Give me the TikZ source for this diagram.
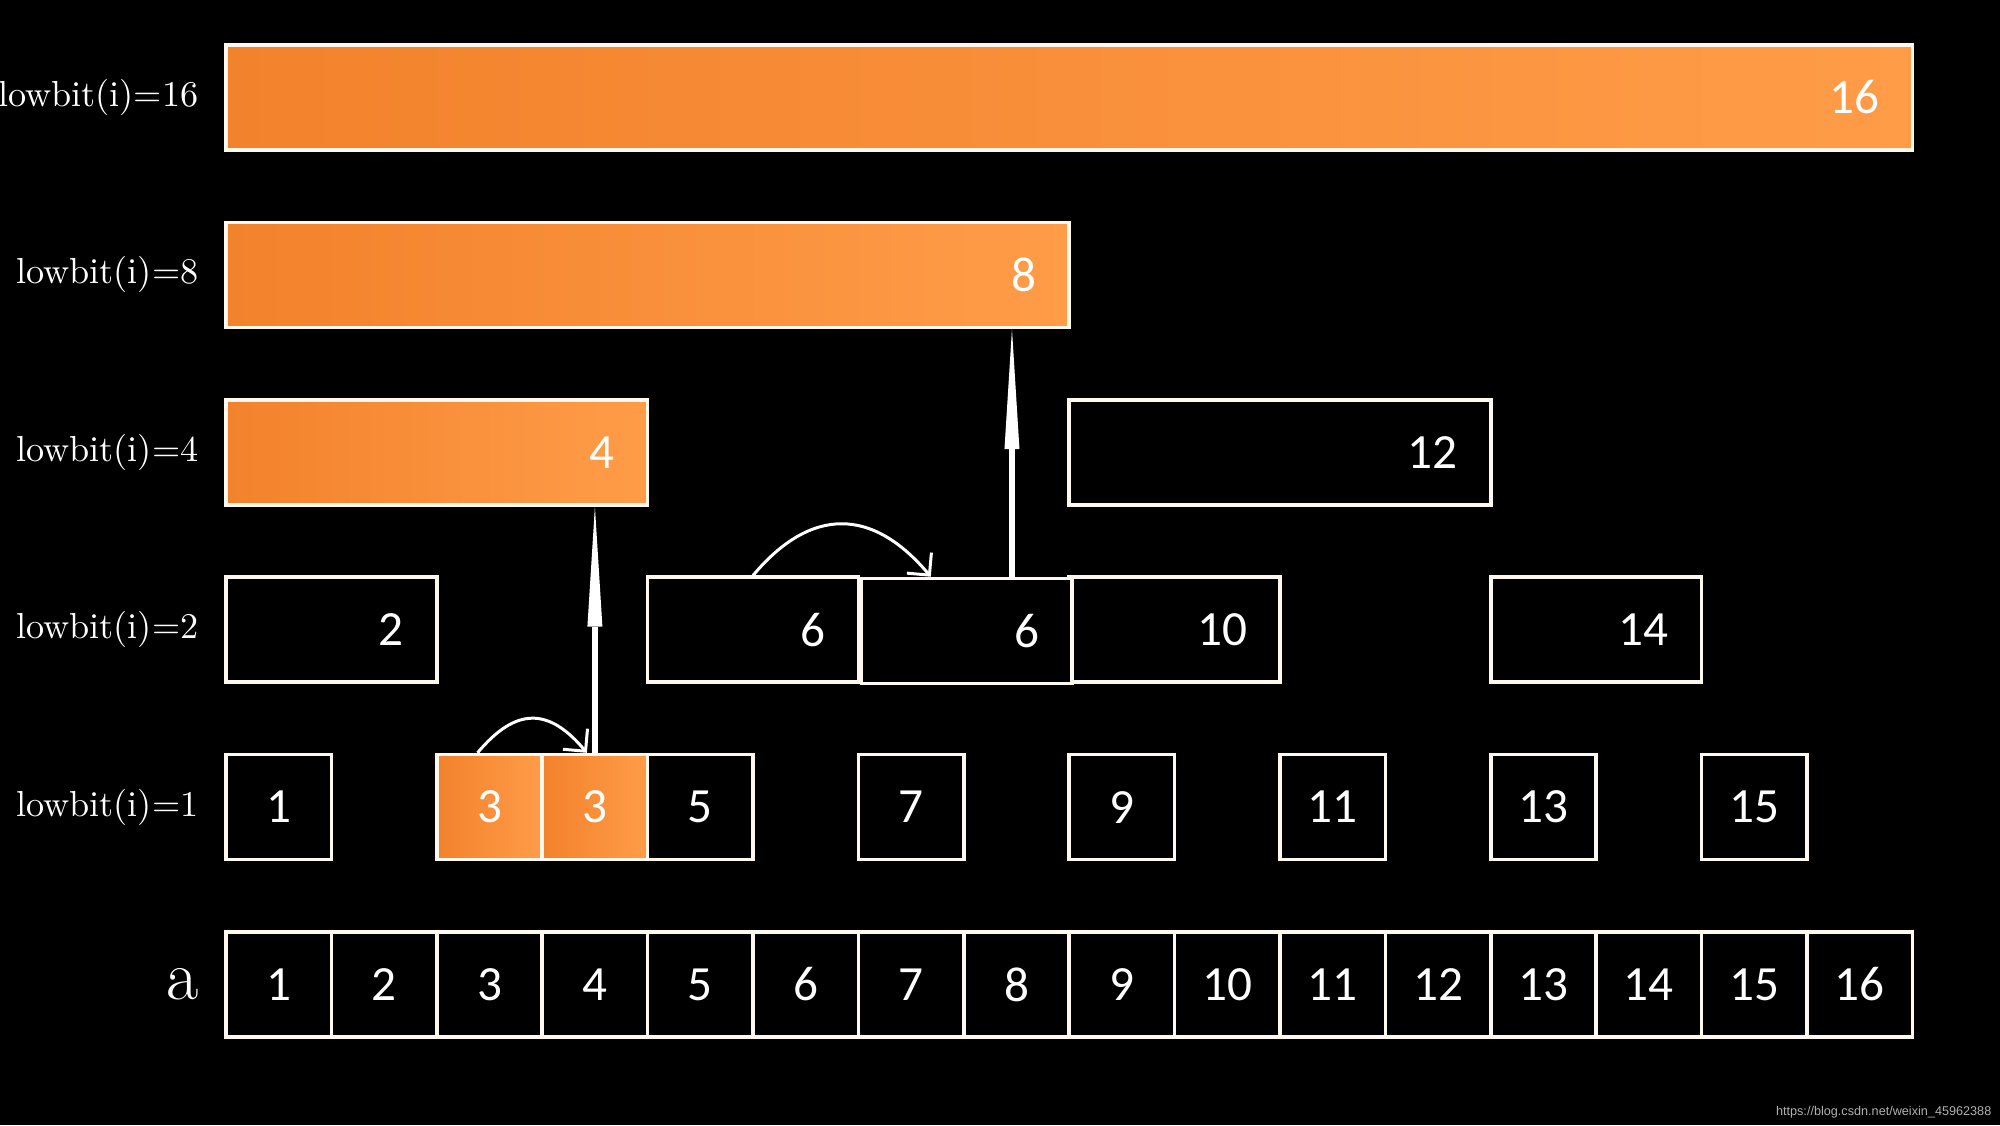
\documentclass[tikz,border=0pt]{standalone}
\usepackage{fontspec}
\newfontfamily\numfont{Carlito}
\newfontfamily\urlfont{Liberation Sans}
\usepackage{tikz}
\usetikzlibrary{arrows.meta,positioning,calc}
\usepackage{xcolor}
\definecolor{hotleft}{HTML}{F3822C}
\definecolor{hotright}{HTML}{FF9C48}
\definecolor{edge}{HTML}{FFF8EE}
\definecolor{wmark}{HTML}{B0B0B0}

\begin{document}
\begin{tikzpicture}[
  every node/.style={text=white},
  cellbox/.style={draw=edge, line width=1pt, fill=black, inner sep=0pt,
                  minimum width=#1*10.54mm, minimum height=10.5mm},
  cellbox/.default=1,
  hot/.style={left color=hotleft, right color=hotright},
  num/.style={font=\numfont\fontsize{14}{17}\selectfont, inner sep=0pt},
  rowlabel/.style={anchor=east, inner sep=0pt, font=\fontsize{10.3}{12}\selectfont},
  liftarrow/.style={-{Triangle[length=12mm, width=1.5mm, line width=0pt]}, line width=1.9pt, draw=white},
  hoparrow/.style={-{Straight Barb[length=1.6mm, width=3.2mm]}, line width=0.85pt, draw=white}
]
  \fill[black] (0,0) rectangle (20,11.25);
  \useasboundingbox (0,0) rectangle (20,11.25);

  % array a
  \node[rowlabel, font=\fontsize{20}{24}\selectfont] (la) at (1.99,1.405) {a};
  \foreach \i in {1,...,16}
    \node[cellbox, num] (a\i) at ({2.26+(\i-0.5)*1.054},1.405) {\i};

  % lowbit rows
  \foreach \k/\r in {1/1, 2/2, 4/3, 8/4, 16/5}
    \node[rowlabel] (l\k) at (1.99,{1.405+\r*1.774}) {lowbit(i)=\k};

  \foreach \i in {1,5,7,9,11,13,15}
    \node[cellbox, num] (c\i) at ({2.26+(\i-0.5)*1.054},3.179) {\i};
  \node[cellbox, hot, num] (c3) at ({2.26+2.5*1.054},3.179) {3};
  \node[cellbox, hot, num] (c3b) at ({2.26+3.5*1.054},3.179) {3};

  \foreach \i/\k/\r in {2/2/2, 6/2/2, 10/2/2, 14/2/2, 12/4/3}{
    \node[cellbox=\k] (c\i) at ({2.26+(\i-\k/2)*1.054},{1.405+\r*1.774}) {};
    \node[num, anchor=east] (n\i) at ([xshift=-3.4mm]c\i.east) {\i};
  }
  \foreach \i/\k/\r in {4/4/3, 8/8/4, 16/16/5}{
    \node[cellbox=\k, hot] (c\i) at ({2.26+(\i-\k/2)*1.054},{1.405+\r*1.774}) {};
    \node[num, anchor=east] (n\i) at ([xshift=-3.4mm]c\i.east) {\i};
  }
  \node[cellbox=2] (c6b) at ({2.26+7*1.054+0.03},4.94) {};
  \node[num, anchor=east] (n6b) at ([xshift=-3.4mm]c6b.east) {6};

  % moves
  \draw[hoparrow] ([xshift=-1.2mm]c3.north) to[out=50, in=130, looseness=1.4] ([xshift=-0.8mm]c3b.north);
  \draw[liftarrow] (c3b.north) -- (c3b.north |- c4.south);
  \coordinate (lift) at ([xshift=-6.2mm]c6b.north east);
  \draw[hoparrow] (c6.north) to[out=50, in=130, looseness=1.3] ([xshift=-3.6mm]c6b.north);
  \draw[liftarrow] (lift) -- (lift |- c8.south);

  \node[anchor=base east, inner sep=0pt, text=wmark, font=\urlfont\fontsize{3.6}{4}\selectfont]
    (mark) at (19.92,0.10) {https://blog.csdn.net/weixin\_45962388};
\end{tikzpicture}
\end{document}
